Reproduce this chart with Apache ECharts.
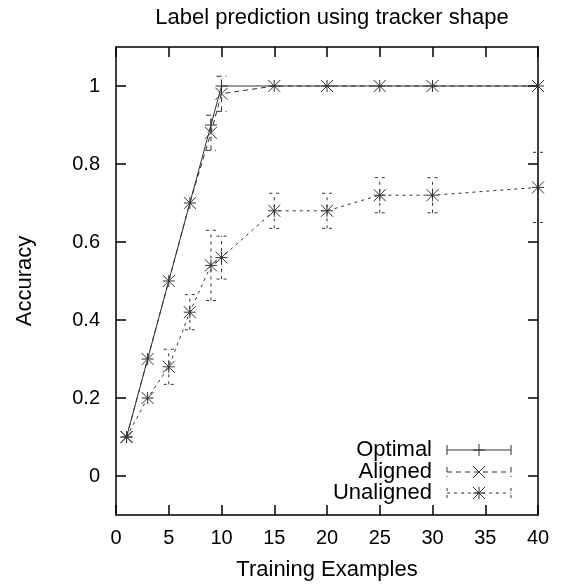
<!DOCTYPE html>
<html>
<head>
<meta charset="utf-8">
<script src="https://cdn.jsdelivr.net/npm/echarts@6/dist/echarts.min.js"></script>
<style>
  html, body { margin: 0; padding: 0; background: #fff; }
  #main { width: 568px; height: 588px; }
</style>
</head>
<body>
<div id="main"></div>
<script>
// values
const trainingExamples = [1, 3, 5, 7, 9, 10, 15, 20, 25, 30, 40]
const optimal = [0.1, 0.3, 0.5, 0.7, 0.9, 1, 1, 1, 1, 1, 1]
const aligned = [0.1, 0.3, 0.5, 0.7, 0.88, 0.98, 1, 1, 1, 1, 1]
const alignedErr = [0, 0, 0, 0, 0.045, 0.045, 0, 0, 0, 0, 0]
const unaligned = [0.1, 0.2, 0.28, 0.42, 0.54, 0.56, 0.68, 0.68, 0.72, 0.72, 0.74]
const unalignedErr = [0, 0, 0.045, 0.045, 0.09, 0.055, 0.045, 0.045, 0.045, 0.045, 0.09]
const yTicks = [0, 0.2, 0.4, 0.6, 0.8, 1]
const legendNames = ['Optimal', 'Aligned', 'Unaligned']

const lineColor = '#333'
const fontFamily = '"Liberation Sans", Arial, Helvetica, sans-serif'

const plusPath = 'path://M5,0L5,10M0,5L10,5'
const crossPath = 'path://M0,0L10,10M10,0L0,10'
const starPath = 'path://M0,0L10,10M10,0L0,10M5,0L5,10M0,5L10,5'

// same shapes as segment lists, for the legend
const plusSegs = [[0, -6, 0, 6], [-6, 0, 6, 0]]
const crossSegs = [[-6, -6, 6, 6], [6, -6, -6, 6]]
const starSegs = plusSegs.concat(crossSegs)

function pairs (ys) {
  return trainingExamples.map((x, i) => [x, ys[i]])
}

function errData (ys, errs) {
  let out = []
  for (let i = 0; i < ys.length; i++) {
    if (errs[i] > 0) out.push([trainingExamples[i], ys[i] - errs[i], ys[i] + errs[i]])
  }
  return out
}

function errSeries (data, dash) {
  return {
    type: 'custom',
    clip: false,
    silent: true,
    z: 1,
    data: data,
    renderItem: function (params, api) {
      let lo = api.coord([api.value(0), api.value(1)])
      let hi = api.coord([api.value(0), api.value(2)])
      let w = 5
      let style = { stroke: lineColor, lineWidth: 1, lineDash: dash, fill: null }
      return {
        type: 'group',
        children: [
          { type: 'line', shape: { x1: lo[0], y1: lo[1], x2: hi[0], y2: hi[1] }, style: style },
          { type: 'line', shape: { x1: lo[0] - w, y1: lo[1], x2: lo[0] + w, y2: lo[1] }, style: style },
          { type: 'line', shape: { x1: hi[0] - w, y1: hi[1], x2: hi[0] + w, y2: hi[1] }, style: style }
        ]
      }
    }
  }
}

function lineSeries (name, ys, symbol, dash) {
  return {
    name: name,
    type: 'line',
    data: pairs(ys),
    symbol: symbol,
    symbolSize: 12,
    showAllSymbol: true,
    clip: false,
    z: 3,
    itemStyle: { color: 'transparent', borderColor: lineColor, borderWidth: 1 },
    lineStyle: { color: lineColor, width: 1, type: dash },
    animation: false
  }
}

// legend drawn as graphics, gnuplot style (text on left, sample on right)
function legendGraphics () {
  let items = []
  let rows = [450, 472, 493]
  let dashes = [null, [5, 4], [3, 4]]
  let marks = [plusSegs, crossSegs, starSegs]
  for (let i = 0; i < legendNames.length; i++) {
    let y = rows[i]
    let st = { stroke: lineColor, lineWidth: 1, lineDash: dashes[i], fill: null }
    items.push({
      type: 'text', x: 432, y: y,
      style: { text: legendNames[i], font: '22px ' + fontFamily, fill: '#000', textAlign: 'right', textVerticalAlign: 'middle' }
    })
    items.push({ type: 'line', shape: { x1: 447, y1: y, x2: 511, y2: y }, style: st })
    items.push({ type: 'line', shape: { x1: 447, y1: y - 5, x2: 447, y2: y + 5 }, style: st })
    items.push({ type: 'line', shape: { x1: 511, y1: y - 5, x2: 511, y2: y + 5 }, style: st })
    marks[i].forEach(function (s) {
      items.push({
        type: 'line',
        shape: { x1: 479 + s[0], y1: y + s[1], x2: 479 + s[2], y2: y + s[3] },
        style: { stroke: lineColor, lineWidth: 1 }
      })
    })
  }
  return items
}

const chart = echarts.init(document.getElementById('main'))

const axisLine = { onZero: false, lineStyle: { color: '#000', width: 1.5 } }
const tickStyle = { color: '#000', width: 1.5 }

const option = {
  animation: false,
  backgroundColor: '#fff',
  title: {
    text: 'Label prediction using tracker shape',
    left: 327,
    top: 2,
    textAlign: 'center',
    textStyle: { fontFamily: fontFamily, fontSize: 22, fontWeight: 'normal', color: '#000' }
  },
  grid: { left: 116, right: 30, top: 47, bottom: 73, containLabel: false },
  xAxis: [
    {
      type: 'value', min: 0, max: 40, interval: 5, position: 'bottom',
      name: 'Training Examples', nameLocation: 'middle', nameGap: 44,
      nameTextStyle: { fontFamily: fontFamily, fontSize: 22, color: '#000' },
      axisLine: axisLine,
      axisTick: { inside: true, length: 10, lineStyle: tickStyle },
      axisLabel: { fontFamily: fontFamily, fontSize: 20, color: '#000', margin: 13 },
      splitLine: { show: false }
    },
    {
      type: 'value', min: 0, max: 40, interval: 5, position: 'top',
      axisLine: axisLine,
      axisTick: { inside: true, length: 10, lineStyle: tickStyle },
      axisLabel: { show: false },
      splitLine: { show: false }
    }
  ],
  yAxis: [
    {
      type: 'value', min: -0.1, max: 1.1, position: 'left',
      name: 'Accuracy', nameLocation: 'middle', nameGap: 80,
      nameTextStyle: { fontFamily: fontFamily, fontSize: 22, color: '#000' },
      axisLine: axisLine,
      axisTick: { inside: true, length: 10, lineStyle: tickStyle, customValues: yTicks },
      axisLabel: {
        fontFamily: fontFamily, fontSize: 20, color: '#000', margin: 16,
        customValues: yTicks,
        formatter: function (v) { return String(Math.round(v * 10) / 10) }
      },
      splitLine: { show: false }
    },
    {
      type: 'value', min: -0.1, max: 1.1, position: 'right',
      axisLine: axisLine,
      axisTick: { inside: true, length: 10, lineStyle: tickStyle, customValues: yTicks },
      axisLabel: { show: false },
      splitLine: { show: false }
    }
  ],
  series: [
    lineSeries('Optimal', optimal, plusPath, 'solid'),
    lineSeries('Aligned', aligned, crossPath, [5, 4]),
    lineSeries('Unaligned', unaligned, starPath, [3, 4]),
    errSeries(errData(aligned, alignedErr), [5, 4]),
    errSeries(errData(unaligned, unalignedErr), [3, 4])
  ],
  graphic: legendGraphics()
}

chart.setOption(option)
</script>
</body>
</html>
